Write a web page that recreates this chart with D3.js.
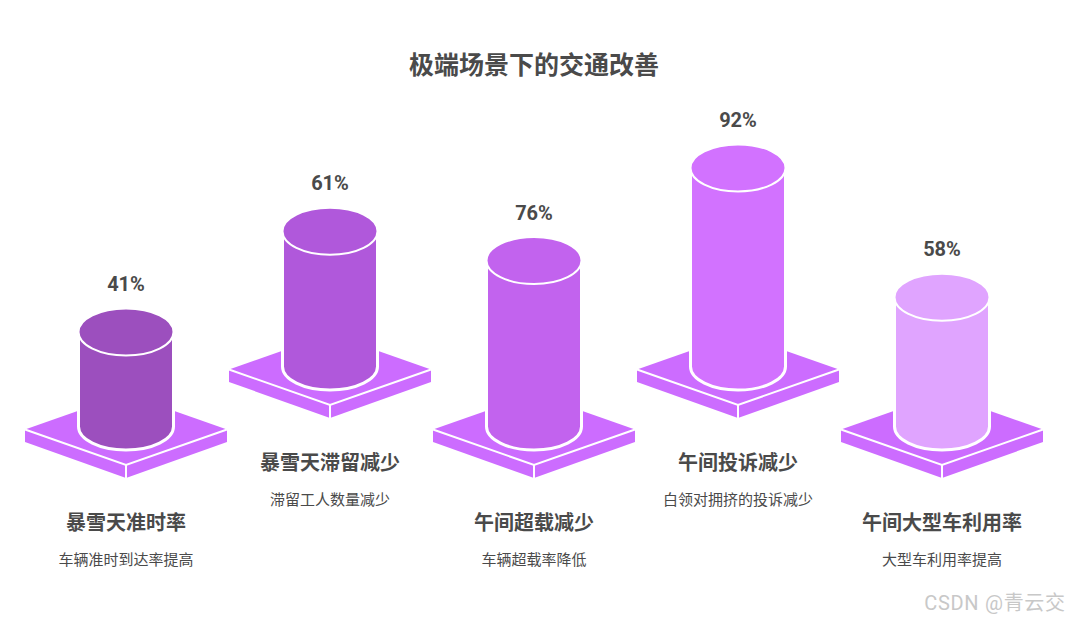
<!DOCTYPE html>
<html><head><meta charset="utf-8">
<script src="https://cdn.jsdelivr.net/npm/d3@7/dist/d3.min.js"></script>
<style>html,body{margin:0;padding:0;background:#fff}svg{display:block}
text{font-family:Roboto,"Noto Sans CJK SC",sans-serif;text-anchor:middle;dominant-baseline:central}</style>
</head><body><div id="c"></div>
<script>
const chartTitle = "极端场景下的交通改善";
const categories = ["暴雪天准时率","暴雪天滞留减少","午间超载减少","午间投诉减少","午间大型车利用率"];
const descriptions = ["车辆准时到达率提高","滞留工人数量减少","车辆超载率降低","白领对拥挤的投诉减少","大型车利用率提高"];
const values = [41,61,76,92,58];
const barColors = ["#9c4fbe","#b058db","#c263ee","#d272ff","#e0a4ff"];
const rows = [0,1,0,1,0];
const baseColor = "#cc6cff";
const textColor = "#4a4a4a";

const W=1068,H=620;
const svg=d3.select("#c").append("svg").attr("width",W).attr("height",H).attr("viewBox",[0,0,W,H]);
const x=d3.scalePoint().domain(categories).range([126,942]);
const baseY=d3.scaleOrdinal().domain([0,1]).range([426.5,366.5]);
const h=d3.scaleLinear().domain([0,100]).range([10.9,214.9]);
const rx=47.5,ry=23.5;

svg.append("text").attr("x",534).attr("y",65.5).attr("font-size",25).attr("font-weight",700).attr("fill",textColor).text(chartTitle);

const g=svg.selectAll("g.item").data(categories).join("g").attr("class","item")
  .attr("transform",(d)=>`translate(${x(d)},0)`);

g.each(function(d,i){
  const s=d3.select(this), by=baseY(rows[i]), top=by-h(values[i]), py=by+3;
  // platform
  s.append("path").attr("fill",baseColor)
   .attr("d",`M-101,${py}L0,${py-35.5}L101,${py}V${py+12.5}L0,${py+48.5}L-101,${py+12.5}Z`);
  s.append("path").attr("fill","none").attr("stroke","#fff").attr("stroke-width",2)
   .attr("d",`M-101,${py}L0,${py+35.5}L101,${py}M0,${py+35.5}V${py+48.5}`);
  // cylinder
  const body=`M${-rx},${top}V${by}A${rx},${ry} 0 0 0 ${rx},${by}V${top}A${rx},${ry} 0 0 0 ${-rx},${top}Z`;
  s.append("path").attr("d",body).attr("fill",barColors[i]).attr("stroke","#fff").attr("stroke-width",3);
  s.append("ellipse").attr("cx",0).attr("cy",top).attr("rx",rx).attr("ry",ry)
   .attr("fill",barColors[i]).attr("stroke","#fff").attr("stroke-width",2);
  // text
  s.append("text").attr("y",top-48).attr("font-size",20).attr("font-weight",700).attr("fill",textColor).text(values[i]+"%");
  s.append("text").attr("y",by+96.5).attr("font-size",20).attr("font-weight",700).attr("fill",textColor).text(d);
  s.append("text").attr("y",by+133.5).attr("font-size",15).attr("fill",textColor).text(descriptions[i]);
});

svg.append("text").attr("x",995).attr("y",603).attr("font-size",20).attr("letter-spacing",0.7).attr("fill","#c8c8c8").text("CSDN @青云交");
</script></body></html>
